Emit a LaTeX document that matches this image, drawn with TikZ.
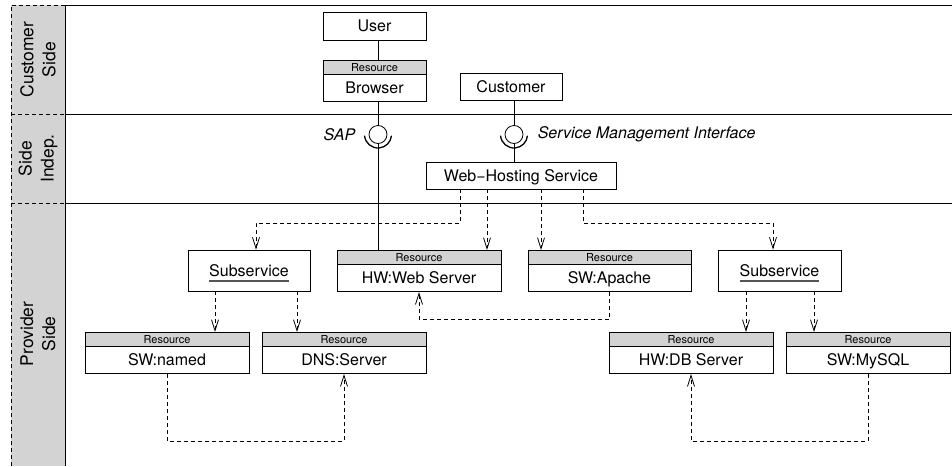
\documentclass[tikz,border=0pt]{standalone}
\usepackage{fontspec}
\setmainfont{TeX Gyre Heros}
\usetikzlibrary{arrows.meta}
\definecolor{bandgray}{HTML}{D3D3D3}
\definecolor{hdrgray}{HTML}{D3D3D3}
\definecolor{ulgray}{HTML}{555555}
% gray underline used for service names
\newcommand\grayul[1]{\setbox0\hbox{#1}\rlap{\color{ulgray}\rule[-5.5pt]{\wd0}{1.6pt}}\box0}
% resource box: gray "Resource" header (name h) above a body (name)
\newcommand\resnode[5]{%
  \node[hdr, minimum width=#5, anchor=north] (#1h) at (#2,#3) {Resource};
  \node[body, minimum width=#5] (#1) at (#1h.south) {#4};}
\begin{document}
\begin{tikzpicture}[x=1pt,y=-1pt,
  line width=0.8pt,
  box/.style={draw, fill=white, inner sep=0pt, text height=11.5pt, text depth=0pt,
    font=\fontsize{16}{19}\selectfont},
  hdr/.style={draw, fill=hdrgray, inner sep=0pt, minimum height=13.5pt,
    text height=7.9pt, text depth=0pt, font=\fontsize{11}{13}\selectfont},
  body/.style={box, minimum height=27pt, anchor=north},
  lane/.style={rotate=90, align=center, font=\fontsize{17.5}{22}\selectfont},
  iface/.style={draw, circle, fill=white, inner sep=0pt, minimum size=18pt},
  socket/.style={line width=1.3pt},
  ilabel/.style={font=\fontsize{16}{19}\selectfont\itshape, inner sep=0pt},
  dep/.style={dash pattern=on 4pt off 3pt, -{Straight Barb[length=11pt,width=7pt,line width=0.8pt]}},
  depline/.style={dash pattern=on 4pt off 3pt}
]
\useasboundingbox (0,0) rectangle (952,466);

% lane header band
\fill[bandgray] (11,5) rectangle (65,466);
\draw[depline] (11,466) -- (11,5) -- (65,5);
\draw[depline] (11,114) -- (65,114);
\draw[depline] (11,203) -- (65,203);
\draw (65,5) -- (65,466);
\draw (65,5) -- (952,5);
\draw (65,114) -- (952,114);
\draw (65,203) -- (952,203);
\node[lane] (lcust) at (38,59.5) {Customer\\Side};
\node[lane] (lind) at (38,158.5) {Side\\Indep.};
\node[lane] (lprov) at (38,334) {Provider\\Side};

% customer side
\node[box, minimum width=103pt, minimum height=28pt] (user) at (374.5,26) {User};
\resnode{browser}{374.5}{60}{Browser}{103pt}
\node[box, minimum width=102pt, minimum height=27pt] (cust) at (511,86.5) {Customer};

% interfaces: ball with a socket arc beneath
\node[iface] (sap) at (378,134.5) {};
\node[iface] (smi) at (514,134.5) {};
\draw[socket] ([shift={(185:13.5pt)}]sap.center) arc[start angle=185, end angle=355, radius=13.5pt];
\draw[socket] ([shift={(185:13.5pt)}]smi.center) arc[start angle=185, end angle=355, radius=13.5pt];
\node[ilabel, anchor=east] (saplbl) at ([xshift=-13pt]sap.west) {SAP};
\node[ilabel, anchor=west] (smilbl) at ([xshift=14pt]smi.east) {Service Management Interface};

\node[box, minimum width=190pt, minimum height=27pt] (whs) at (521,175.5) {Web−Hosting Service};

% provider side
\node[box, minimum width=122pt, minimum height=41pt] (subl) at (249,270.5) {\grayul{Subservice}};
\resnode{websrv}{419}{250}{HW:Web Server}{164pt}
\resnode{apache}{609.5}{250}{SW:Apache}{163pt}
\node[box, minimum width=123pt, minimum height=41pt] (subr) at (779.5,270.5) {\grayul{Subservice}};
\resnode{named}{167}{332}{SW:named}{164pt}
\resnode{dns}{344}{332}{DNS:Server}{164pt}
\resnode{dbsrv}{691}{332}{HW:DB Server}{164pt}
\resnode{mysql}{868}{332}{SW:MySQL}{164pt}

% solid connectors
\draw (user.south -| sap) -- (browserh.north -| sap);
\draw (browser.south -| sap) -- (sap.north);
\draw (sap.south) -- (websrvh.north -| sap);
\draw (cust.south -| smi) -- (smi.north);
\draw (smi.south) -- (whs.north -| smi);

% dependencies
\draw[dep] ([xshift=-61pt]whs.south) -- ++(0,34) -| ([xshift=7pt]subl.north);
\draw[dep] ([xshift=-34pt]whs.south) -- ([xshift=68pt]websrvh.north);
\draw[dep] ([xshift=20pt]whs.south) -- ([xshift=-68.5pt]apacheh.north);
\draw[dep] ([xshift=62pt]whs.south) -- ++(0,34) -| ([xshift=-6.5pt]subr.north);
\draw[dep] ([xshift=-34pt]subl.south) -- ([xshift=48pt]namedh.north);
\draw[dep] ([xshift=48pt]subl.south) -- ([xshift=-47pt]dnsh.north);
\draw[dep] ([xshift=-33.5pt]subr.south) -- ([xshift=55pt]dbsrvh.north);
\draw[dep] ([xshift=34.5pt]subr.south) -- ([xshift=-54pt]mysqlh.north);
\draw[dep] (apache.south) -- ++(0,27) -| (websrv.south);
\draw[dep] (named.south) -- ++(0,67) -| (dns.south);
\draw[dep] (mysql.south) -- ++(0,67) -| (dbsrv.south);
\end{tikzpicture}
\end{document}
